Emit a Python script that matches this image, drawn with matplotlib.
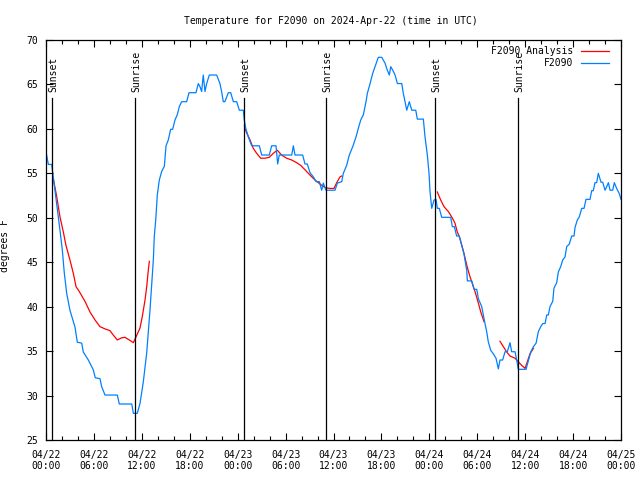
import numpy as np
import matplotlib
matplotlib.use("Agg")
import matplotlib.pyplot as plt
from matplotlib.ticker import MultipleLocator

# Observed F2090 temperature (hours since 2024-04-22 00:00 UTC, deg F)
obs_hours = [0.0, 0.09, 0.29, 0.71, 0.91, 1.75, 2.04, 2.29, 2.59, 3.0, 3.63, 3.92, 4.47, 4.67,
             5.3, 5.92, 6.17, 6.76, 6.97, 7.39, 8.93, 9.18, 10.74, 10.94, 11.43, 11.77, 12.18,
             12.61, 13.02, 13.44, 13.56, 13.74, 13.94, 14.19, 14.48, 14.82, 15.03, 15.31, 15.61,
             15.86, 16.15, 16.44, 16.69, 16.99, 17.61, 17.91, 18.78, 19.07, 19.28, 19.49, 19.69,
             19.91, 20.12, 20.45, 21.37, 21.78, 21.99, 22.2, 22.4, 22.83, 23.13, 23.46, 23.88,
             24.21, 24.71, 24.83, 25.01, 25.33, 25.76, 26.71, 27.01, 27.96, 28.26, 28.8, 29.01,
             29.21, 30.77, 30.97, 31.18, 32.14, 32.43, 32.72, 33.06, 33.48, 33.82, 34.23, 34.52,
             34.72, 35.06, 36.19, 36.48, 37.03, 37.23, 37.65, 37.98, 38.41, 38.82, 39.11, 39.41,
             39.74, 40.07, 40.24, 40.58, 40.91, 41.2, 41.61, 42.04, 42.45, 42.74, 42.99, 43.17,
             43.42, 43.71, 44.0, 44.55, 44.74, 44.96, 45.17, 45.49, 45.8, 46.3, 46.5, 47.25,
             47.46, 47.75, 47.96, 48.09, 48.3, 48.59, 48.84, 49.0, 49.25, 49.55, 50.68, 50.88,
             51.13, 51.42, 51.75, 52.05, 52.34, 52.68, 52.76, 53.31, 53.6, 53.94, 54.14, 54.56,
             54.97, 55.18, 55.38, 55.68, 56.01, 56.35, 56.64, 56.85, 57.18, 57.48, 57.77, 58.1,
             58.31, 58.73, 58.94, 59.14, 60.11, 60.4, 60.7, 61.03, 61.37, 61.65, 61.95, 62.2,
             62.49, 62.7, 62.9, 63.11, 63.45, 63.61, 63.95, 64.15, 64.45, 64.7, 64.99, 65.2,
             65.53, 65.83, 66.12, 66.24, 66.53, 66.78, 67.08, 67.37, 67.62, 68.12, 68.33, 68.53,
             68.74, 68.95, 69.16, 69.5, 69.71, 70.0, 70.21, 70.42, 70.63, 70.96, 71.16, 71.46,
             71.79, 72.0]
obs_temp = [57.4, 57.0, 56.0, 56.0, 54.6, 48.6, 46.4, 43.8, 41.5, 39.6, 37.7, 36.0, 35.9, 34.9,
            34.0, 32.9, 32.0, 31.9, 31.0, 30.06, 30.06, 29.05, 29.05, 28.0, 28.0, 29.1, 31.5,
            34.8, 39.6, 45.25, 47.9, 49.75, 52.6, 54.25, 55.2, 55.8, 58.1, 58.75, 59.95,
            59.95, 61.0, 61.6, 62.5, 63.06, 63.06, 64.07, 64.07, 65.1, 64.75, 64.2, 66.06,
            64.2, 65.1, 66.06, 66.06, 65.1, 64.2, 63.06, 63.06, 64.07, 64.07, 63.06, 63.06,
            62.1, 62.1, 61.0, 60.07, 59.1, 58.1, 58.1, 57.06, 57.06, 58.1, 58.1, 56.05,
            57.06, 57.06, 58.1, 57.06, 57.06, 56.05, 56.05, 55.07, 54.6, 54.06, 54.06, 53.1,
            53.9, 53.1, 53.1, 53.9, 54.06, 55.0, 55.9, 57.06, 58.0, 59.1, 60.07, 61.0,
            61.6, 63.06, 64.0, 65.1, 66.25, 67.0, 68.05, 68.05, 67.4, 66.6, 66.06, 67.0,
            66.6, 66.06, 65.1, 65.1, 64.0, 63.06, 62.1, 63.06, 62.1, 62.1, 61.1, 61.1,
            59.1, 57.06, 55.0, 52.9, 51.06, 52.0, 52.07, 51.06, 51.06, 50.05, 50.05, 49.0,
            49.0, 47.95, 47.95, 46.94, 45.9, 44.1, 42.9, 42.9, 41.95, 41.95, 40.9, 40.0,
            38.1, 37.2, 36.06, 35.1, 34.7, 34.2, 33.0, 34.0, 34.0, 34.93, 34.93, 35.95,
            34.93, 34.93, 34.0, 32.95, 32.95, 33.9, 34.9, 35.5, 35.9, 37.2, 37.75, 38.1,
            38.1, 39.06, 39.06, 40.0, 40.6, 42.1, 42.7, 43.9, 44.5, 45.25, 45.6, 46.75,
            47.05, 47.95, 47.95, 48.9, 49.75, 50.1, 51.06, 51.06, 52.07, 52.07, 53.05, 53.05,
            53.95, 53.95, 55.0, 54.0, 54.0, 53.1, 53.5, 53.95, 53.1, 53.1, 53.95, 53.3,
            52.7, 52.07]

# Analysis segments
ana1_hours = [0.91, 1.34, 1.75, 2.17, 2.5, 3.0, 3.42, 3.76, 4.17, 4.88, 5.51, 6.14, 6.76, 7.39,
              8.01, 8.43, 8.93, 9.48, 9.89, 10.43, 10.94, 11.27, 11.77, 12.06, 12.4, 12.61,
              12.81, 12.94]
ana1_temp = [54.4, 52.4, 50.1, 48.4, 46.9, 45.25, 43.75, 42.25, 41.7, 40.6, 39.4, 38.5, 37.75, 37.5,
             37.3, 36.8, 36.25, 36.5, 36.55, 36.25, 35.95, 36.6, 37.6, 38.9, 40.75, 42.25,
             44.1, 45.1]
ana2_hours = [24.85, 25.05, 25.55, 25.96, 26.38, 26.88, 27.42, 27.96, 28.46, 28.96, 29.5, 30.13,
              30.76, 31.38, 31.88, 32.43, 33.06, 33.68, 34.31, 34.94, 35.56, 36.06, 36.4,
              36.82, 37.03]
ana2_temp = [60.4, 59.7, 58.75, 57.8, 57.25, 56.7, 56.7, 56.8, 57.25, 57.6, 57.06, 56.7,
             56.5, 56.2, 55.9, 55.4, 54.8, 54.25, 53.8, 53.4, 53.3, 53.3, 53.95,
             54.6, 54.7]
ana3_hours = [49.0, 49.42, 49.84, 50.38, 50.8, 51.21, 51.5, 51.75, 52.05, 52.34, 52.68, 53.01,
              53.31, 53.72, 54.14, 54.44, 54.85]
ana3_temp = [52.9, 52.0, 51.25, 50.7, 50.1, 49.4, 48.4, 47.9, 46.94, 46.0, 44.7, 43.6,
             42.8, 41.7, 40.4, 39.4, 38.3]
ana4_hours = [56.85, 57.27, 57.69, 58.1, 58.73, 59.14, 59.56, 59.98, 60.27, 60.6, 61.03]
ana4_temp = [36.1, 35.5, 34.9, 34.45, 34.2, 33.8, 33.4, 33.06, 33.8, 34.7, 35.3]

sun_hours = [0.79, 11.18, 24.83, 35.1, 48.75, 59.14]
sun_labels = ["Sunset", "Sunrise", "Sunset", "Sunrise", "Sunset", "Sunrise"]

tick_hours = list(range(0, 73, 6))
tick_labels = ["04/22\n00:00", "04/22\n06:00", "04/22\n12:00", "04/22\n18:00",
               "04/23\n00:00", "04/23\n06:00", "04/23\n12:00", "04/23\n18:00",
               "04/24\n00:00", "04/24\n06:00", "04/24\n12:00", "04/24\n18:00",
               "04/25\n00:00"]

FONT = "DejaVu Sans Mono"
FS = 7
plt.rcParams['font.family'] = FONT

fig = plt.figure(figsize=(6.4, 4.8), dpi=100)
ax = fig.add_axes([46/640, 40/480, 575/640, 400/480])

ana_h = ana1_hours + [np.nan] + ana2_hours + [np.nan] + ana3_hours + [np.nan] + ana4_hours
ana_t = ana1_temp + [np.nan] + ana2_temp + [np.nan] + ana3_temp + [np.nan] + ana4_temp

ax.plot(ana_h, ana_t, color="#ff0000", lw=0.9, label="F2090 Analysis")
ax.plot(obs_hours, obs_temp, color="#0080ff", lw=0.9, label="F2090")

for h, lab in zip(sun_hours, sun_labels):
    ax.axvline(h, ymin=0, ymax=(440-98)/400, color="black", lw=0.9)
    ax.text(h + 0.1, 64.15, lab, rotation=90, ha="center", va="bottom",
            fontsize=FS, color="black")

ax.set_xlim(0, 72)
ax.set_ylim(25, 70)
ax.set_xticks(tick_hours)
ax.set_xticklabels(tick_labels, fontsize=FS)
ax.xaxis.set_minor_locator(MultipleLocator(2))
ax.yaxis.set_major_locator(MultipleLocator(5))
ax.tick_params(axis="both", which="major", direction="in", length=5, width=0.8,
               top=True, right=True, labelsize=FS)
ax.tick_params(axis="x", which="major", pad=7)
ax.tick_params(axis="y", which="major", pad=5.8)
ax.tick_params(axis="x", which="minor", direction="in", length=3, width=0.8,
               top=True, bottom=True)
for s in ax.spines.values():
    s.set_linewidth(0.9)

ax.set_ylabel("degrees F", fontsize=FS)
ax.yaxis.set_label_coords((10 - 46) / 575, 0.485)
fig.text(331/640, 1 - 21/480, "Temperature for F2090 on 2024-Apr-22 (time in UTC)",
         ha="center", va="center", fontsize=FS)

leg = ax.legend(loc="upper right", bbox_to_anchor=(0.979, 0.985), frameon=False,
                fontsize=FS, markerfirst=False, borderpad=0,
                handlelength=2.88, handletextpad=0.82, borderaxespad=0, labelspacing=0.2)

fig.savefig("out.png", dpi=100)
